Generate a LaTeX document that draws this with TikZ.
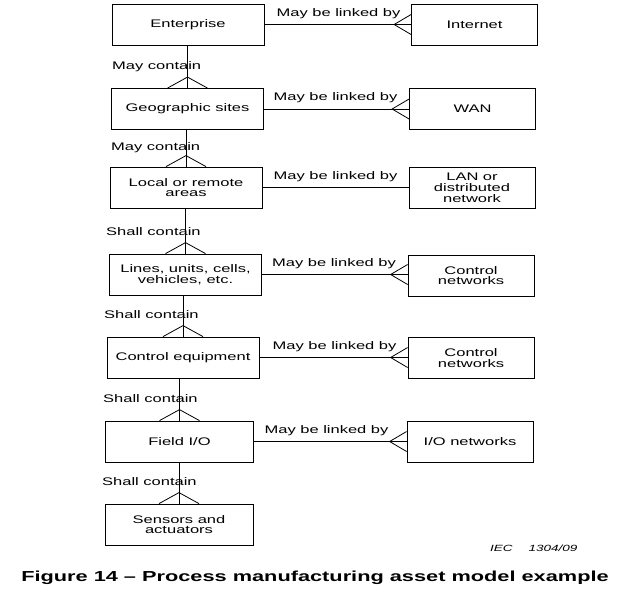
\documentclass[tikz,border=0pt]{standalone}
\usepackage{fontspec}
\setmainfont{Liberation Sans}[FakeStretch=1.5]
\usetikzlibrary{calc}
\newcommand\crowH[1]{\draw[conn] ($(#1)+(0,-10)$) -- ($(#1)+(-17,0)$) -- ($(#1)+(0,10)$);}
\newcommand\crowV[1]{\draw[conn] ($(#1)+(-20,0)$) -- ($(#1)+(0,-11)$) -- ($(#1)+(20,0)$);}
\begin{document}
\begin{tikzpicture}[x=1pt,y=-1pt,
  every node/.style={font=\fontsize{11}{10.8}\selectfont, inner sep=0pt},
  lbox/.style={draw, line width=0.8pt, minimum width=152pt, minimum height=41pt, align=center},
  rbox/.style={draw, line width=0.8pt, minimum width=126pt, minimum height=41pt, align=center},
  conn/.style={line width=0.8pt},
  link/.style={font=\fontsize{11}{13}\selectfont},
  rel/.style={anchor=west}]
\useasboundingbox (0,0) rectangle (628,600);
% left column
\node[lbox] (E1) at (188,24.5) {Enterprise};
\node[lbox] (E2) at (187.5,109) {Geographic sites};
\node[lbox] (E3) at (186,187.5) {Local or remote\\areas};
\node[lbox] (E4) at (185.5,274.5) {Lines, units, cells,\\vehicles, etc.};
\node[lbox] (E5) at (183,357.5) {Control equipment};
\node[lbox, minimum width=148pt] (E6) at (179.5,441.5) {Field I/O};
\node[lbox, minimum width=148pt] (E7) at (179,524.5) {Sensors and\\actuators};
% right column
\node[rbox] (R1) at (474.5,25) {Internet};
\node[rbox] (R2) at (472.5,108.5) {WAN};
\node[rbox] (R3) at (472,188) {LAN or\\distributed\\network};
\node[rbox] (R4) at (471,275.5) {Control\\networks};
\node[rbox] (R5) at (471,358) {Control\\networks};
\node[rbox] (R6) at (470,441.5) {I/O networks};
% horizontal links
\foreach \i in {1,...,6}{
  \coordinate (h\i) at (R\i.west |- E\i.east);
  \draw[conn] (E\i.east) -- (h\i);
}
\crowH{h1}
\crowH{h2}
\crowH{h4}
\crowH{h5}
\crowH{h6}
% vertical links
\foreach \a/\b in {1/2,2/3,3/4,4/5,5/6,6/7}{
  \coordinate (v\b) at (E\b.north);
  \draw[conn] (E\b.north |- E\a.south) -- (v\b);
  \crowV{v\b}
}
% link labels
\node[link] (L1) at (338.5,14) {May be linked by};
\node[link] (L2) at (335.5,98) {May be linked by};
\node[link] (L3) at (335.5,177) {May be linked by};
\node[link] (L4) at (334,264) {May be linked by};
\node[link] (L5) at (334.5,347) {May be linked by};
\node[link] (L6) at (326.5,431) {May be linked by};
% containment labels
\node[rel] (C1) at (112,67) {May contain};
\node[rel] (C2) at (111,148) {May contain};
\node[rel] (C3) at (106,232) {Shall contain};
\node[rel] (C4) at (104,315) {Shall contain};
\node[rel] (C5) at (103,399) {Shall contain};
\node[rel] (C6) at (102,482) {Shall contain};
% reference and caption
\node[font=\itshape\fontsize{9}{10}\selectfont, anchor=west] (iec) at (490,548) {IEC\hspace{16pt}1304/09};
\node[font=\bfseries\fontsize{14.5}{16}\selectfont] (cap) at (315,578) {Figure 14 -- Process manufacturing asset model example};
\end{tikzpicture}
\end{document}
